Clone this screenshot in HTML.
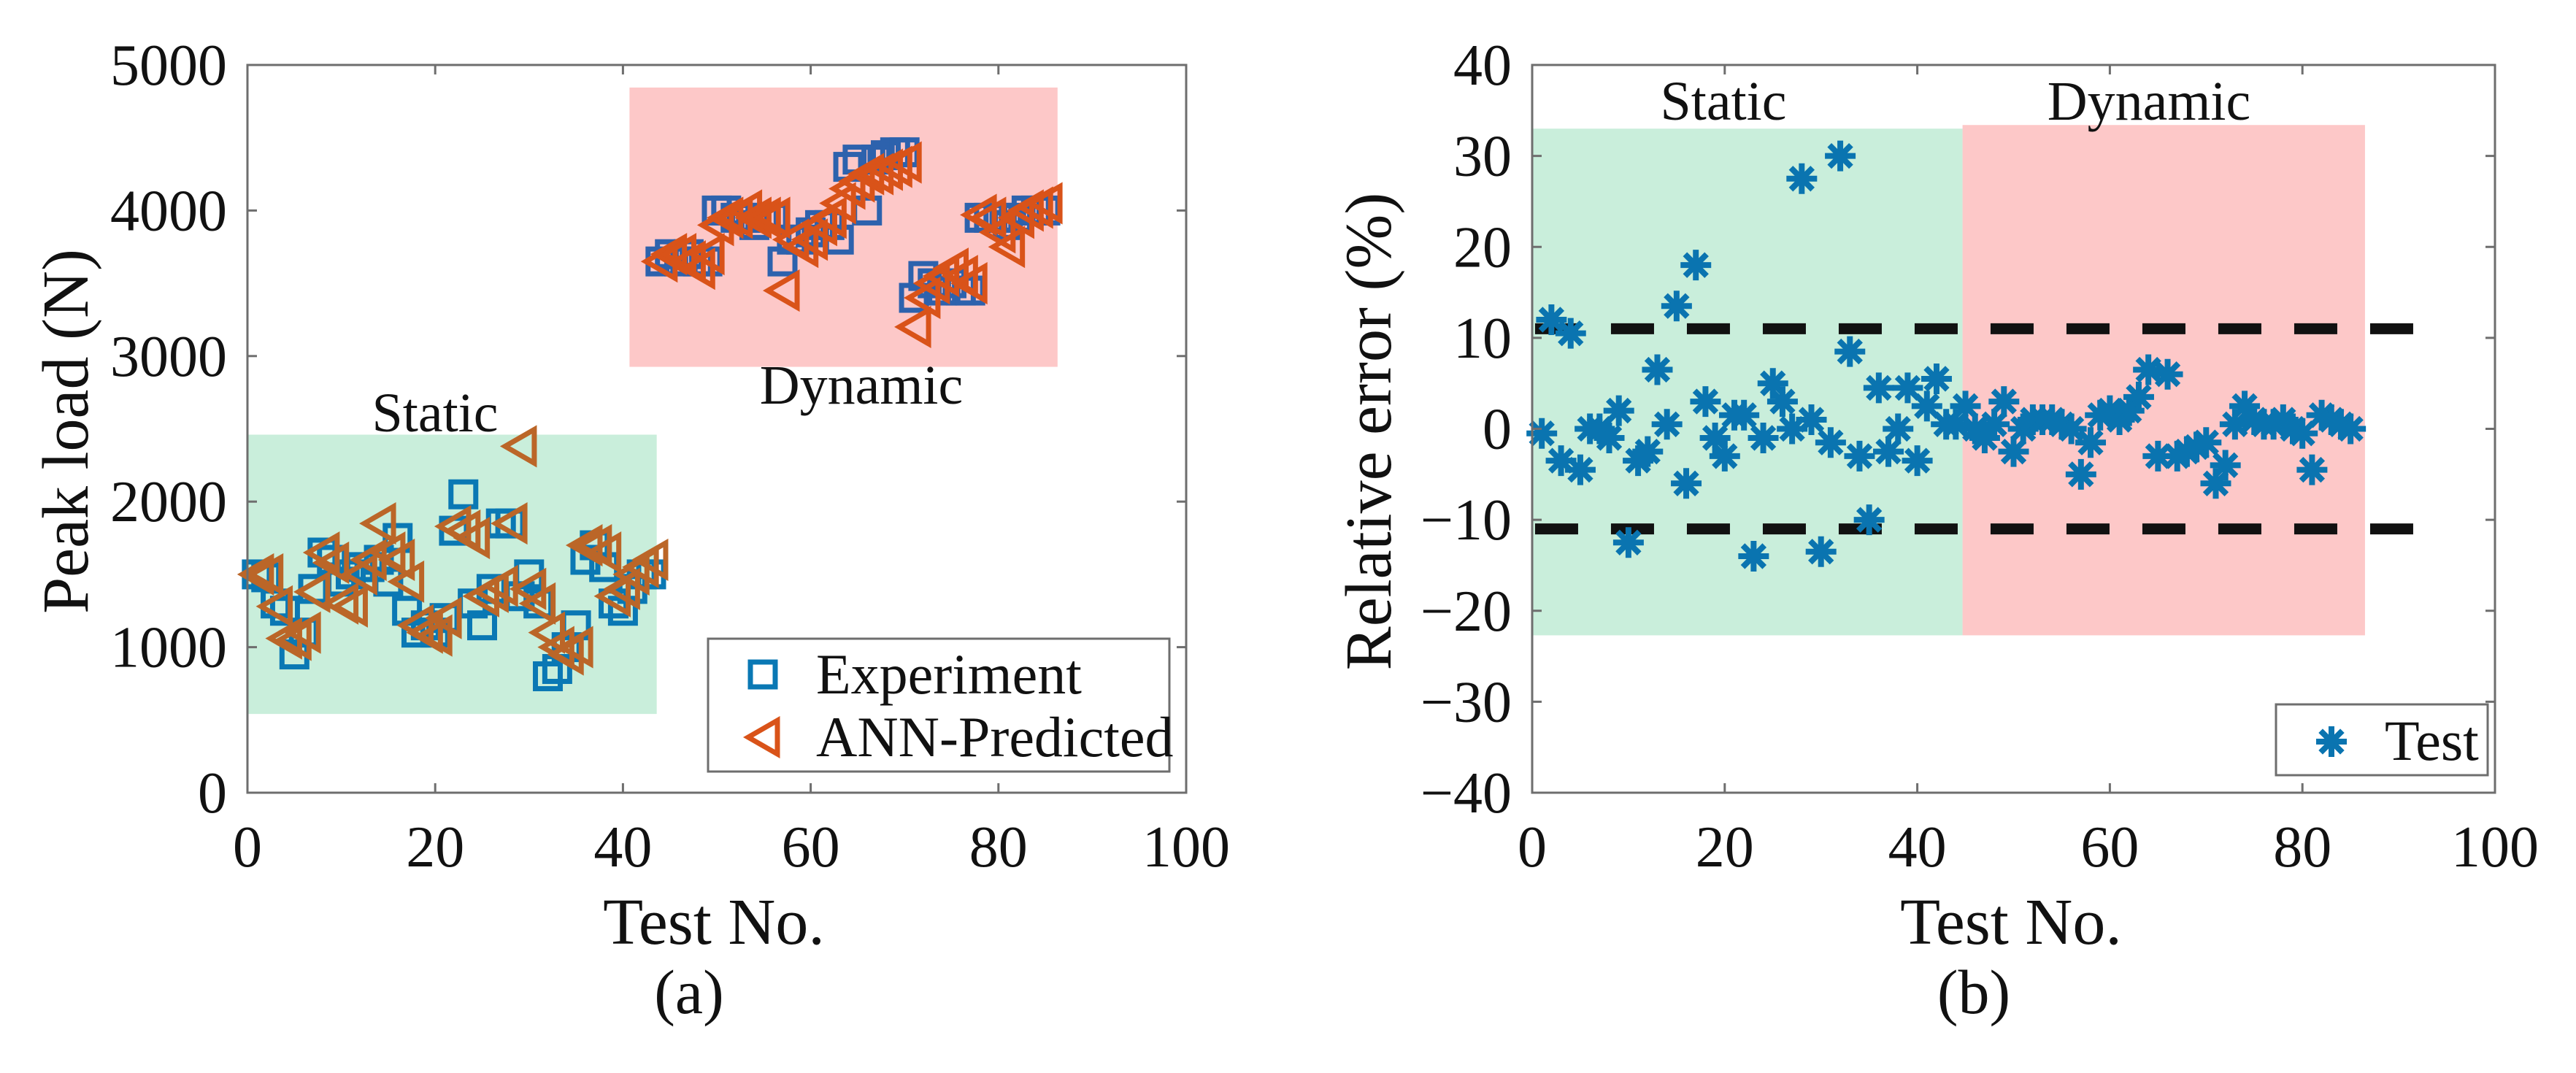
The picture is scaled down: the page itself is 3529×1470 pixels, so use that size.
<!DOCTYPE html>
<html><head><meta charset="utf-8"><style>
html,body{margin:0;padding:0;background:#fff}
svg{display:block}
text{font-family:"Liberation Serif",serif;fill:#111}
</style></head><body>
<svg id="fig" width="3529" height="1470" viewBox="0 0 3529 1470" xmlns="http://www.w3.org/2000/svg">
<g id="pa"></g>
<g id="pb"></g>
</svg>
<script>
// ---------- data ----------
const staticTests = [1,2,3,4,5,6,7,8,9,10,11,12,13,14,15,16,17,18,19,20,21,22,23,24,25,26,27,28,29,30,31,32,33,34,35,36,37,38,39,40,41,42,43];
const staticExp = [1500,1480,1300,1250,950,1100,1400,1650,1600,1450,1500,1550,1550,1600,1450,1750,1250,1100,1150,1100,1200,1800,2050,1300,1150,1400,1850,1850,1350,1500,1300,800,850,1000,1150,1600,1700,1550,1300,1250,1400,1500,1500];
const staticPred = [1500,1500,1280,1060,1050,1100,1380,1650,1580,1300,1280,1500,1600,1850,1650,1600,1450,1150,1100,1080,1200,1830,1800,1750,1350,1380,1420,1850,2380,1400,1300,1100,1000,950,1000,1700,1700,1650,1350,1400,1500,1550,1600];
const dynTests = [44,45,46,47,48,49,50,51,52,53,54,55,56,57,58,59,60,61,62,63,64,65,66,67,68,69,70,71,72,73,74,75,76,77,78,79,80,81,82,83,84,85];
const dynExp = [3650,3700,3650,3700,3650,3650,4000,4000,3950,3950,3900,3950,3950,3650,3800,3800,3850,3900,3900,3800,4300,4350,4000,4350,4380,4400,4400,3400,3550,3500,3450,3500,3450,3450,3950,3950,3950,3900,3950,4000,4000,4000];
const dynPred = [3650,3700,3700,3650,3600,3700,3900,3950,3950,4000,3950,3950,3950,3450,3800,3750,3800,3900,3950,4050,4150,4200,4250,4250,4280,4300,4330,3200,3400,3500,3550,3600,3550,3500,3970,3950,3850,3750,3950,4000,4020,4050];
const errTests = [1,2,3,4,5,6,7,8,9,10,11,12,13,14,15,16,17,18,19,20,21,22,23,24,25,26,27,28,29,30,31,32,33,34,35,36,37,38,39,40,41,42,43,44,45,46,47,48,49,50,51,52,53,54,55,56,57,58,59,60,61,62,63,64,65,66,67,68,69,70,71,72,73,74,75,76,77,78,79,80,81,82,83,84,85];
const errValues = [-0.5,12,-3.5,10.5,-4.5,0,0,-1,2,-12.5,-3.5,-2.5,6.5,0.5,13.5,-6,18,3,-1,-3,1.5,1.5,-14,-1,5,3,0,27.5,1,-13.5,-1.5,30,8.5,-3,-10,4.5,-2.5,0,4.5,-3.5,2.5,5.5,0.5,0.5,2.5,0,-1,0.5,3,-2.5,0,1,1,1,0.5,0,-5,-1.5,1.5,2,1,2,3.5,6.5,-3,6,-3,-2.5,-2,-1.5,-6,-4,0.5,2.5,1,0.5,0.5,1,0,-0.5,-4.5,1.5,1,0.5,0];
const xTicks = [0,20,40,60,80,100];
const yTicksA = [0,1000,2000,3000,4000,5000];
const yTicksB = [-40,-30,-20,-10,0,10,20,30,40];
const errLimits = [11,-11];

const NS='http://www.w3.org/2000/svg';
function mk(parent,tag,attrs,txt){const e=document.createElementNS(NS,tag);for(const k in attrs)e.setAttribute(k,attrs[k]);if(txt!==undefined)e.textContent=txt;parent.appendChild(e);return e;}

// ---------- panel a ----------
const pa=document.getElementById('pa');
const A={l:339,r:1625,t:89,b:1086};
const ax=v=>A.l+(v/100)*(A.r-A.l);
const ay=v=>A.b-(v/5000)*(A.b-A.t);
let r;
r=mk(pa,'rect',{x:ax(0),y:ay(2460),width:ax(43.6)-ax(0),height:ay(541)-ay(2460),fill:'#c9eedb'});


r=mk(pa,'rect',{x:ax(40.7),y:ay(4845),width:ax(86.3)-ax(40.7),height:ay(2926)-ay(4845),fill:'#fdc8c8'});


function square(g,x,y,c,name){const s=34;const e=mk(g,'rect',{x:x-s/2,y:y-s/2,width:s,height:s,fill:'none',stroke:c,'stroke-width':7});

}
function tri(g,x,y,c,name){const w=40,h=46;const e=mk(g,'polygon',{points:`${x-w/2},${y} ${x+w/2},${y-h/2} ${x+w/2},${y+h/2}`,fill:'none',stroke:c,'stroke-width':7,'stroke-linejoin':'miter'});

}
staticTests.forEach((t,i)=>square(pa,ax(t),ay(staticExp[i]),'#0a78b4','experiment-point'));
dynTests.forEach((t,i)=>square(pa,ax(t),ay(dynExp[i]),'#2d62ad','experiment-point'));
staticTests.forEach((t,i)=>tri(pa,ax(t),ay(staticPred[i]),'#bb6628','predicted-point'));
dynTests.forEach((t,i)=>tri(pa,ax(t),ay(dynPred[i]),'#d95319','predicted-point'));
let tx;
tx=mk(pa,'text',{x:596,y:591,'font-size':76,'text-anchor':'middle'},'Static');


tx=mk(pa,'text',{x:1180,y:553,'font-size':76,'text-anchor':'middle'},'Dynamic');


function axesFrame(g,B,xt,xf,yt,yf,ylabel,xlabelX,capX,capTxt,yLabelX){
  const f=mk(g,'rect',{x:B.l,y:B.t,width:B.r-B.l,height:B.b-B.t,fill:'none',stroke:'#6e6e6e','stroke-width':3});
  
  
  xt.forEach(v=>{const X=xf(v);
    mk(g,'line',{x1:X,x2:X,y1:B.b,y2:B.b-13,stroke:'#6e6e6e','stroke-width':3});
    mk(g,'line',{x1:X,x2:X,y1:B.t,y2:B.t+13,stroke:'#6e6e6e','stroke-width':3});
    const l=mk(g,'text',{x:X,y:1187,'font-size':80,'text-anchor':'middle'},String(v));
    
    });
  yt.forEach(v=>{const Y=yf(v);
    mk(g,'line',{x1:B.l,x2:B.l+13,y1:Y,y2:Y,stroke:'#6e6e6e','stroke-width':3});
    mk(g,'line',{x1:B.r,x2:B.r-13,y1:Y,y2:Y,stroke:'#6e6e6e','stroke-width':3});
    const l=mk(g,'text',{x:B.l-28,y:Y+27,'font-size':80,'text-anchor':'end'},(v<0?'\u2212'+(-v):String(v)));
    
    });
  let t=mk(g,'text',{x:xlabelX,y:1293,'font-size':90,'text-anchor':'middle'},'Test No.');
  
  
  t=mk(g,'text',{x:capX,y:1388,'font-size':86,'text-anchor':'middle'},capTxt);
  
  
  t=mk(g,'text',{x:0,y:0,'font-size':90,'text-anchor':'middle',transform:`translate(${yLabelX},591) rotate(-90)`},ylabel);
  
  
}
axesFrame(pa,A,xTicks,ax,yTicksA,ay,'Peak load (N)',978,944,'(a)',120);
// legend a
const lga=mk(pa,'g',{});


mk(lga,'rect',{x:970,y:875,width:632,height:182,fill:'#fff',stroke:'#6e6e6e','stroke-width':3});
square(lga,1045,924,'#0a78b4','legend-experiment-marker');
tri(lga,1045,1010,'#d95319','legend-predicted-marker');
tx=mk(lga,'text',{x:1118,y:950,'font-size':78},'Experiment');


tx=mk(lga,'text',{x:1118,y:1036,'font-size':78},'ANN-Predicted');



// ---------- panel b ----------
const pb=document.getElementById('pb');
const B={l:2099,r:3418,t:89,b:1086};
const bx=v=>B.l+(v/100)*(B.r-B.l);
const by=v=>B.b-((v+40)/80)*(B.b-B.t);
r=mk(pb,'rect',{x:bx(0),y:by(33),width:bx(44.7)-bx(0),height:by(-22.7)-by(33),fill:'#c9eedb'});


r=mk(pb,'rect',{x:bx(44.7),y:by(33.4),width:bx(86.5)-bx(44.7),height:by(-22.7)-by(33.4),fill:'#fdc8c8'});


errLimits.forEach(v=>{const l=mk(pb,'line',{x1:bx(0.3),x2:bx(91.6),y1:by(v),y2:by(v),stroke:'#111','stroke-width':15,'stroke-dasharray':'59 45'});

});
function star(g,x,y,name){const e=mk(g,'g',{stroke:'#0a74b0','stroke-width':8,'stroke-linecap':'butt'});


const R=21;for(let k=0;k<4;k++){const a=k*Math.PI/4;mk(e,'line',{x1:x-R*Math.cos(a),y1:y-R*Math.sin(a),x2:x+R*Math.cos(a),y2:y+R*Math.sin(a)});}
mk(e,'circle',{cx:x,cy:y,r:10,fill:'#0a74b0',stroke:'none'});}
errTests.forEach((t,i)=>star(pb,bx(t),by(errValues[i]),'error-point'));
tx=mk(pb,'text',{x:2361,y:164,'font-size':76,'text-anchor':'middle'},'Static');


tx=mk(pb,'text',{x:2944,y:164,'font-size':76,'text-anchor':'middle'},'Dynamic');


axesFrame(pb,B,xTicks,bx,yTicksB,by,'Relative error (%)',2755,2704,'(b)',1905);
const lgb=mk(pb,'g',{});


mk(lgb,'rect',{x:3118,y:965,width:290,height:97,fill:'#fff',stroke:'#6e6e6e','stroke-width':3});
star(lgb,3194,1016,'legend-test-marker');
tx=mk(lgb,'text',{x:3267,y:1041,'font-size':78},'Test');


</script>
</body></html>
